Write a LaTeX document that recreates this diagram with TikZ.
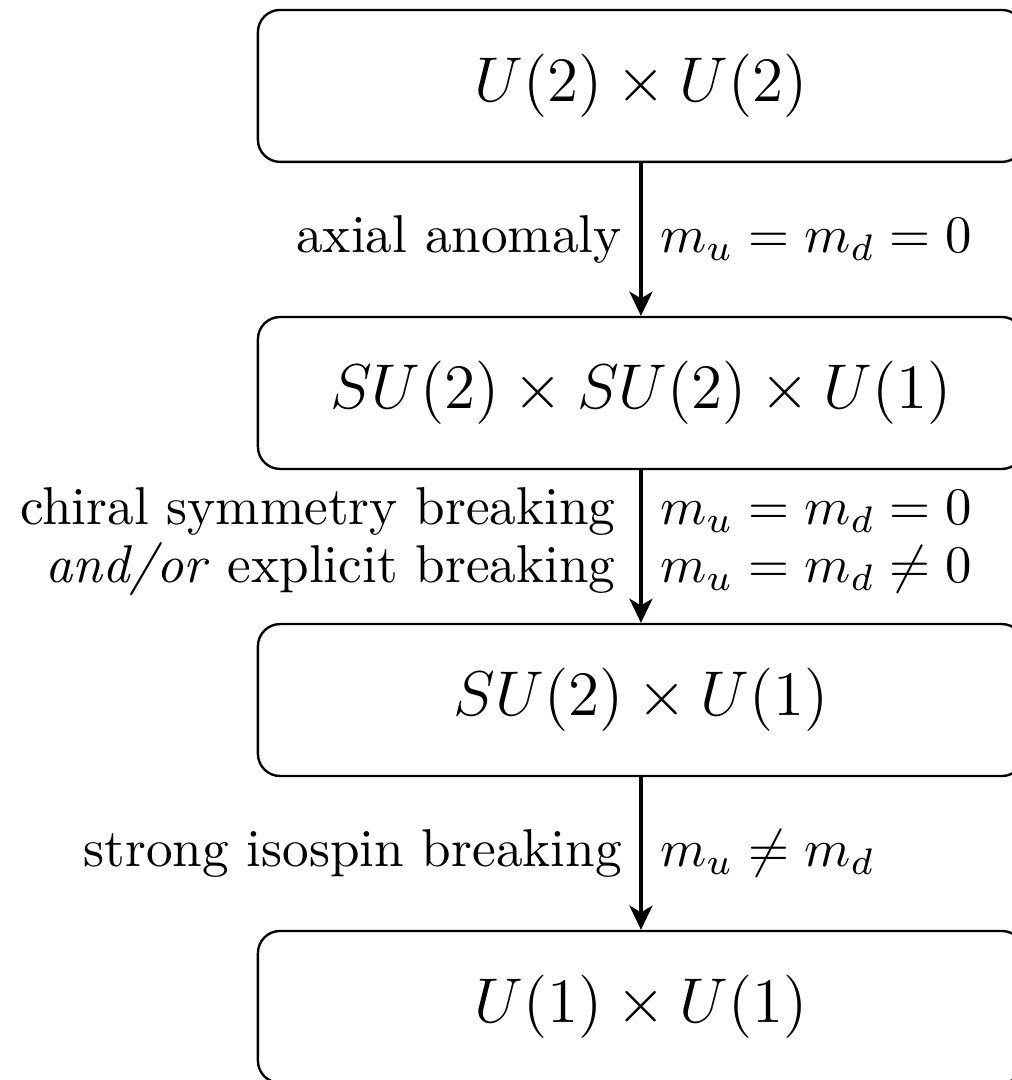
\documentclass[tikz,border=0pt]{standalone}
\usepackage{amsmath}
\usepackage{amsfonts}
\usetikzlibrary{arrows.meta}

\begin{document}
\begin{tikzpicture}[x=1cm, y=1cm,
	group/.style={draw, line width=0.45pt, rounded corners=4.2pt, minimum width=5.107cm, minimum height=1.013cm, inner sep=0pt, font=\fontsize{12.4}{15}\selectfont},
	flow/.style={semithick, -{Stealth[length=4.6pt, width=4.4pt, inset=1.3pt]}},
	lab/.style={font=\fontsize{10.1}{11}\selectfont}]
					% Page size
					\useasboundingbox (0,0) rectangle (6.74,7.2);
					
					% Define coordinates
					\coordinate (G1) at (4.273,6.627);
					\coordinate (G2) at (4.273,4.580);
					\coordinate (G3) at (4.273,2.533);
					\coordinate (G4) at (4.273,0.487);
					
					% Symmetry groups
					\node[group] (UU) at (G1) {$U(2)\times U(2)$};
					\node[group] (SUSU) at (G2) {$SU(2)\times SU(2)\times U(1)$};
					\node[group] (SUU) at (G3) {$SU(2)\times U(1)$};
					\node[group] (UoUo) at (G4) {$U(1)\times U(1)$};
					
					% Draw the breaking steps
					\draw[flow] (UU) -- (SUSU)
						node[midway, left, lab, align=right] {axial anomaly}
						node[midway, right, lab, align=left] {$m_u=m_d=0$};
					\draw[flow] (SUSU) -- (SUU)
						node[midway, left, lab, align=right, xshift=-1.2pt, yshift=1pt] {chiral symmetry breaking\\\emph{and/or} explicit breaking}
						node[midway, right, lab, align=left, yshift=1pt] {$m_u=m_d=0$\\$m_u=m_d\neq 0$};
					\draw[flow] (SUU) -- (UoUo)
						node[midway, left, lab, align=right] {strong isospin breaking}
						node[midway, right, lab, align=left] {$m_u\neq m_d$};
				\end{tikzpicture}
\end{document}
